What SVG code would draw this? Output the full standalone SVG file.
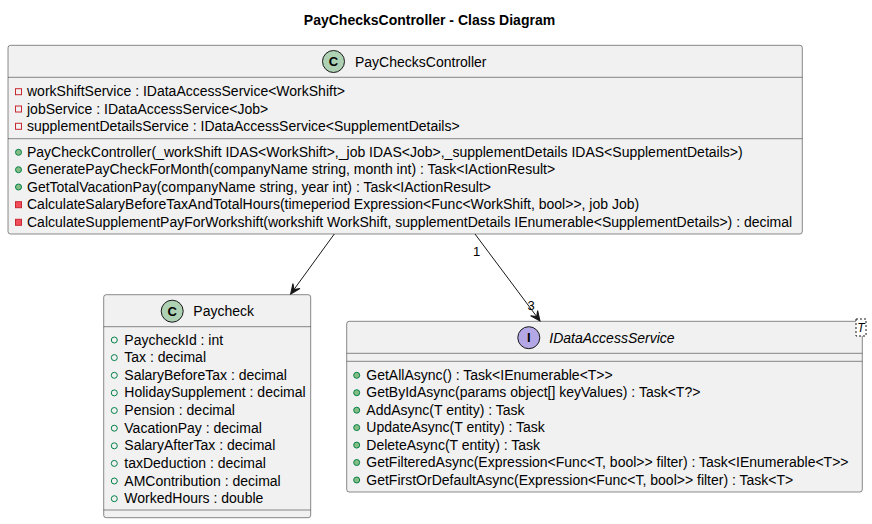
<svg xmlns="http://www.w3.org/2000/svg" width="872" height="524" viewBox="0 0 872 524">
<style>
text{font-family:"Liberation Sans",Arial,sans-serif;font-size:14px;fill:#000}
.title{font-weight:bold}
.box{fill:#F1F1F1;stroke:#181818;stroke-width:0.5}
.sep{stroke:#181818;stroke-width:0.5}
.cspot{fill:#ADD1B2;stroke:#181818;stroke-width:1}
.ispot{fill:#B4A7E5;stroke:#181818;stroke-width:1}
.spotl{font-weight:bold;font-size:13px;text-anchor:middle}
.ital{font-style:italic}
.privf{fill:none;stroke:#C82930;stroke-width:1}
.privm{fill:#F24D5C;stroke:#C82930;stroke-width:1}
.pubm{fill:#84BE84;stroke:#038048;stroke-width:1}
.pubf{fill:none;stroke:#038048;stroke-width:1}
.edge{stroke:#181818;stroke-width:1;fill:none}
.lbl{font-size:13px;text-anchor:middle}
.tmpl{fill:#FFFFFF;stroke:#181818;stroke-width:1;stroke-dasharray:2,2}
</style>
<defs>
<marker id="arr" markerUnits="userSpaceOnUse" orient="auto" refX="0" refY="0" markerWidth="12" markerHeight="12" viewBox="-10 -5 11 10" overflow="visible">
<path d="M0,0 L-9,-4 L-5,0 L-9,4 Z" fill="#181818" stroke="#181818" stroke-width="1"/>
</marker>
</defs>
<rect width="872" height="524" fill="#FFFFFF"/>
<text class="title" x="429.5" y="25" text-anchor="middle">PayChecksController - Class Diagram</text>

<g id="PayChecksController">
<rect class="box" x="8" y="45.3" width="794.3" height="188.7" rx="2.5" ry="2.5"/>
<ellipse class="cspot" cx="333.5" cy="61.5" rx="11" ry="11"/>
<text class="spotl" x="333.5" y="66.2">C</text>
<text x="355" y="66.5">PayChecksController</text>
<line class="sep" x1="8" y1="77.3" x2="802.3" y2="77.3"/>
<rect class="privf" x="15.5" y="88.7" width="6" height="6"/>
<text x="27" y="96.2">workShiftService : IDataAccessService&lt;WorkShift&gt;</text>
<rect class="privf" x="15.5" y="106" width="6" height="6"/>
<text x="27" y="113.5">jobService : IDataAccessService&lt;Job&gt;</text>
<rect class="privf" x="15.5" y="123.3" width="6" height="6"/>
<text x="27" y="130.8">supplementDetailsService : IDataAccessService&lt;SupplementDetails&gt;</text>
<line class="sep" x1="8" y1="138.7" x2="802.3" y2="138.7"/>
<circle class="pubm" cx="18.5" cy="152.3" r="3"/>
<text x="27" y="156.8">PayCheckController(_workShift IDAS&lt;WorkShift&gt;,_job IDAS&lt;Job&gt;,_supplementDetails IDAS&lt;SupplementDetails&gt;)</text>
<circle class="pubm" cx="18.5" cy="169.7" r="3"/>
<text x="27" y="174.2">GeneratePayCheckForMonth(companyName string, month int) : Task&lt;IActionResult&gt;</text>
<circle class="pubm" cx="18.5" cy="187" r="3"/>
<text x="27" y="191.5">GetTotalVacationPay(companyName string, year int) : Task&lt;IActionResult&gt;</text>
<rect class="privm" x="15.5" y="201.7" width="6" height="6"/>
<text x="27" y="209.2">CalculateSalaryBeforeTaxAndTotalHours(timeperiod Expression&lt;Func&lt;WorkShift, bool&gt;&gt;, job Job)</text>
<rect class="privm" x="15.5" y="219.3" width="6" height="6"/>
<text x="27" y="226.8">CalculateSupplementPayForWorkshift(workshift WorkShift, supplementDetails IEnumerable&lt;SupplementDetails&gt;) : decimal</text>
</g>

<g id="Paycheck">
<rect class="box" x="103.7" y="294.7" width="207" height="223" rx="2.5" ry="2.5"/>
<ellipse class="cspot" cx="172.2" cy="311.2" rx="11" ry="11"/>
<text class="spotl" x="172.2" y="315.9">C</text>
<text x="193.3" y="316">Paycheck</text>
<line class="sep" x1="103.7" y1="326.7" x2="310.7" y2="326.7"/>
<circle class="pubf" cx="114.3" cy="340" r="3"/>
<text x="124.3" y="344.5">PaycheckId : int</text>
<circle class="pubf" cx="114.3" cy="357.6" r="3"/>
<text x="124.3" y="362.1">Tax : decimal</text>
<circle class="pubf" cx="114.3" cy="375.3" r="3"/>
<text x="124.3" y="379.8">SalaryBeforeTax : decimal</text>
<circle class="pubf" cx="114.3" cy="392.9" r="3"/>
<text x="124.3" y="397.4">HolidaySupplement : decimal</text>
<circle class="pubf" cx="114.3" cy="410.5" r="3"/>
<text x="124.3" y="415">Pension : decimal</text>
<circle class="pubf" cx="114.3" cy="428.2" r="3"/>
<text x="124.3" y="432.7">VacationPay : decimal</text>
<circle class="pubf" cx="114.3" cy="445.8" r="3"/>
<text x="124.3" y="450.3">SalaryAfterTax : decimal</text>
<circle class="pubf" cx="114.3" cy="463.4" r="3"/>
<text x="124.3" y="467.9">taxDeduction : decimal</text>
<circle class="pubf" cx="114.3" cy="481" r="3"/>
<text x="124.3" y="485.5">AMContribution : decimal</text>
<circle class="pubf" cx="114.3" cy="498.7" r="3"/>
<text x="124.3" y="503.2">WorkedHours : double</text>
<line class="sep" x1="103.7" y1="510" x2="310.7" y2="510"/>
</g>

<g id="IDataAccessService">
<rect class="box" x="346.7" y="321.3" width="515.6" height="170.7" rx="2.5" ry="2.5"/>
<ellipse class="ispot" cx="528.8" cy="337.7" rx="11" ry="11"/>
<text class="spotl" x="528.8" y="342.4">I</text>
<text class="ital" x="549.3" y="342.5">IDataAccessService</text>
<line class="sep" x1="346.7" y1="353.3" x2="862.3" y2="353.3"/>
<line class="sep" x1="346.7" y1="361.3" x2="862.3" y2="361.3"/>
<circle class="pubm" cx="356.7" cy="375.3" r="3"/>
<text x="366.3" y="379.8">GetAllAsync() : Task&lt;IEnumerable&lt;T&gt;&gt;</text>
<circle class="pubm" cx="356.7" cy="392.7" r="3"/>
<text x="366.3" y="397.2">GetByIdAsync(params object[] keyValues) : Task&lt;T?&gt;</text>
<circle class="pubm" cx="356.7" cy="410.2" r="3"/>
<text x="366.3" y="414.7">AddAsync(T entity) : Task</text>
<circle class="pubm" cx="356.7" cy="427.6" r="3"/>
<text x="366.3" y="432.1">UpdateAsync(T entity) : Task</text>
<circle class="pubm" cx="356.7" cy="445.1" r="3"/>
<text x="366.3" y="449.6">DeleteAsync(T entity) : Task</text>
<circle class="pubm" cx="356.7" cy="462.5" r="3"/>
<text x="366.3" y="467">GetFilteredAsync(Expression&lt;Func&lt;T, bool&gt;&gt; filter) : Task&lt;IEnumerable&lt;T&gt;&gt;</text>
<circle class="pubm" cx="356.7" cy="480" r="3"/>
<text x="366.3" y="484.5">GetFirstOrDefaultAsync(Expression&lt;Func&lt;T, bool&gt;&gt; filter) : Task&lt;T&gt;</text>
<rect class="tmpl" x="856" y="319" width="10" height="17"/>
<text class="ital" x="861" y="332" font-size="12" text-anchor="middle" style="font-size:12px">T</text>
</g>

<g id="connectors">
<line class="edge" x1="334.3" y1="234" x2="290.7" y2="294" marker-end="url(#arr)"/>
<line class="edge" x1="475" y1="234" x2="540" y2="321" marker-end="url(#arr)"/>
<text class="lbl" x="476.7" y="255.5">1</text>
<text class="lbl" x="531" y="310">3</text>
</g>
</svg>
